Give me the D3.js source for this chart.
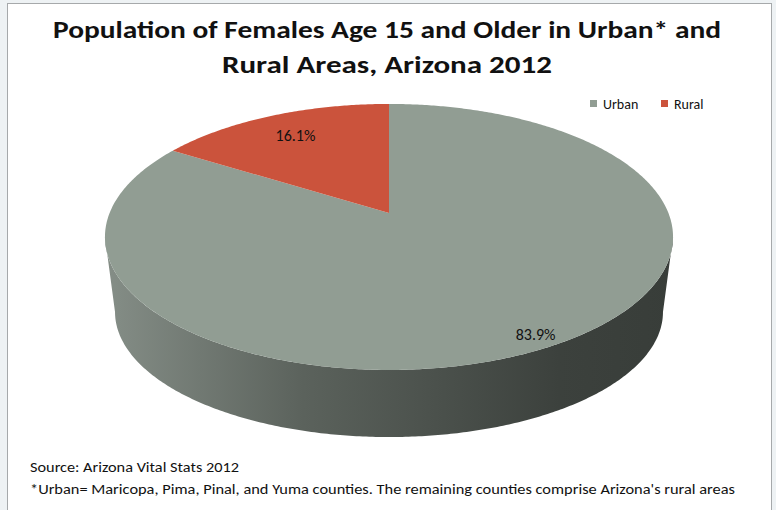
<!DOCTYPE html>
<html>
<head>
<meta charset="utf-8">
<script src="https://cdn.jsdelivr.net/npm/d3@7"></script>
<style>
  html, body { margin: 0; padding: 0; background: #eef2f4; }
  svg { display: block; }
  text { font-family: Carlito, Lato, "Open Sans", sans-serif; fill: #111; }
</style>
</head>
<body>
<svg id="chart" width="776" height="510"></svg>
<script>
// ---- data ----
const categories = ["Urban", "Rural"];
const shares = [83.9, 16.1];
const sliceColors = ["#919d93", "#cb533c"];
const titleLines = ["Population of Females Age 15 and Older in Urban* and", "Rural Areas, Arizona 2012"];
const footerLines = [
  "Source: Arizona Vital Stats 2012",
  "*Urban= Maricopa, Pima, Pinal, and Yuma counties. The remaining counties comprise Arizona's rural areas"
];

// ---- layout ----
const W = 776, H = 510;
const K = 0.18;                // perspective foreshortening of the disc
const topFace = { cx: 389, cy: 213, rx: 279.4, ry: 128.7 };
const baseFace = { cx: 389, cy: 289.5, rx: 269.5, ry: 121 };
const labelRadius = [0.925, 0.775];

const svg = d3.select("#chart");

// chart frame
svg.append("rect").attr("x", 7.5).attr("y", 3.5).attr("width", 764).attr("height", 520)
  .attr("fill", "#fff").attr("stroke", "#a6a9ab").attr("stroke-width", 1);

// linear scales for each face (unit disc -> screen)
function faceScales(f) {
  return {
    x: d3.scaleLinear().domain([-1, 1]).range([f.cx - f.rx, f.cx + f.rx]),
    y: d3.scaleLinear().domain([-1, 1]).range([f.cy - f.ry, f.cy + f.ry])
  };
}
const topS = faceScales(topFace), baseS = faceScales(baseFace);

// angle (clockwise from 12 o'clock) -> projected point on a face
function proj(sc, a, r = 1) {
  const u = r * Math.sin(a), v = -r * Math.cos(a);
  const s = 1 / (1 - K * v);
  return [sc.x(u * s), sc.y(v * s)];
}
function arcPoints(sc, a0, a1) {
  const n = Math.max(2, Math.ceil(Math.abs(a1 - a0) / 0.01));
  return d3.range(n + 1).map(i => proj(sc, a0 + (a1 - a0) * i / n));
}

const pie = d3.pie().sort(null).value(d => d.value);
const arcs = pie(categories.map((c, i) => ({ name: c, value: shares[i], color: sliceColors[i] })));

// side wall gradient
const defs = svg.append("defs");
const grad = defs.append("linearGradient").attr("id", "wall")
  .attr("gradientUnits", "userSpaceOnUse").attr("x1", 105).attr("x2", 673).attr("y1", 0).attr("y2", 0);
[[0, "#858e87"], [0.35, "#5b625c"], [0.8, "#3c413d"], [1, "#383d39"]].forEach(([o, c]) =>
  grad.append("stop").attr("offset", o).attr("stop-color", c));

const line = d3.line();
// visible front of the rim
const frontA0 = Math.acos(-K), frontA1 = 2 * Math.PI - Math.acos(-K);
const wallG = svg.append("g");
arcs.forEach(d => {
  const a0 = Math.max(d.startAngle, frontA0), a1 = Math.min(d.endAngle, frontA1);
  if (a1 <= a0) return;
  const pts = arcPoints(topS, a0, a1).concat(arcPoints(baseS, a1, a0));
  wallG.append("path").attr("d", line(pts) + "Z")
    .attr("fill", d.index === 0 ? "url(#wall)" : d3.color(d.data.color).darker(0.8));
});

// top face slices
const topG = svg.append("g");
const center = proj(topS, 0, 0);
arcs.forEach(d => {
  const pts = [center].concat(arcPoints(topS, d.startAngle, d.endAngle));
  topG.append("path").attr("d", line(pts) + "Z").attr("fill", d.data.color);
});

// data labels
const fmt = d3.format(".1f");
arcs.forEach(d => {
  const mid = (d.startAngle + d.endAngle) / 2;
  const [x, y] = proj(topS, mid, labelRadius[d.index]);
  svg.append("text").attr("x", x).attr("y", y).attr("dy", "0.35em")
    .attr("text-anchor", "middle").attr("font-size", 16).attr("fill", "#222")
    .text(fmt(d.data.value) + "%");
});

// title
const titleBase = [38, 73], titleLen = [668, 330];
titleLines.forEach((t, i) => {
  svg.append("text").attr("x", 387).attr("y", titleBase[i]).attr("text-anchor", "middle")
    .attr("font-size", 24.5).attr("font-weight", "bold")
    .attr("textLength", titleLen[i]).attr("lengthAdjust", "spacingAndGlyphs").text(t);
});

// legend
const legendX = [590, 661];
const legend = svg.append("g");
categories.forEach((c, i) => {
  legend.append("rect").attr("x", legendX[i]).attr("y", 100).attr("width", 7).attr("height", 7)
    .attr("fill", sliceColors[i]);
  legend.append("text").attr("x", legendX[i] + 13).attr("y", 108.5).attr("font-size", 14)
    .attr("fill", "#333").text(c);
});

// footer notes
const footBase = [472, 494], footLen = [209, 705];
footerLines.forEach((t, i) => {
  svg.append("text").attr("x", 30).attr("y", footBase[i]).attr("font-size", 14)
    .attr("textLength", footLen[i]).attr("lengthAdjust", "spacingAndGlyphs").text(t);
});
</script>
</body>
</html>
